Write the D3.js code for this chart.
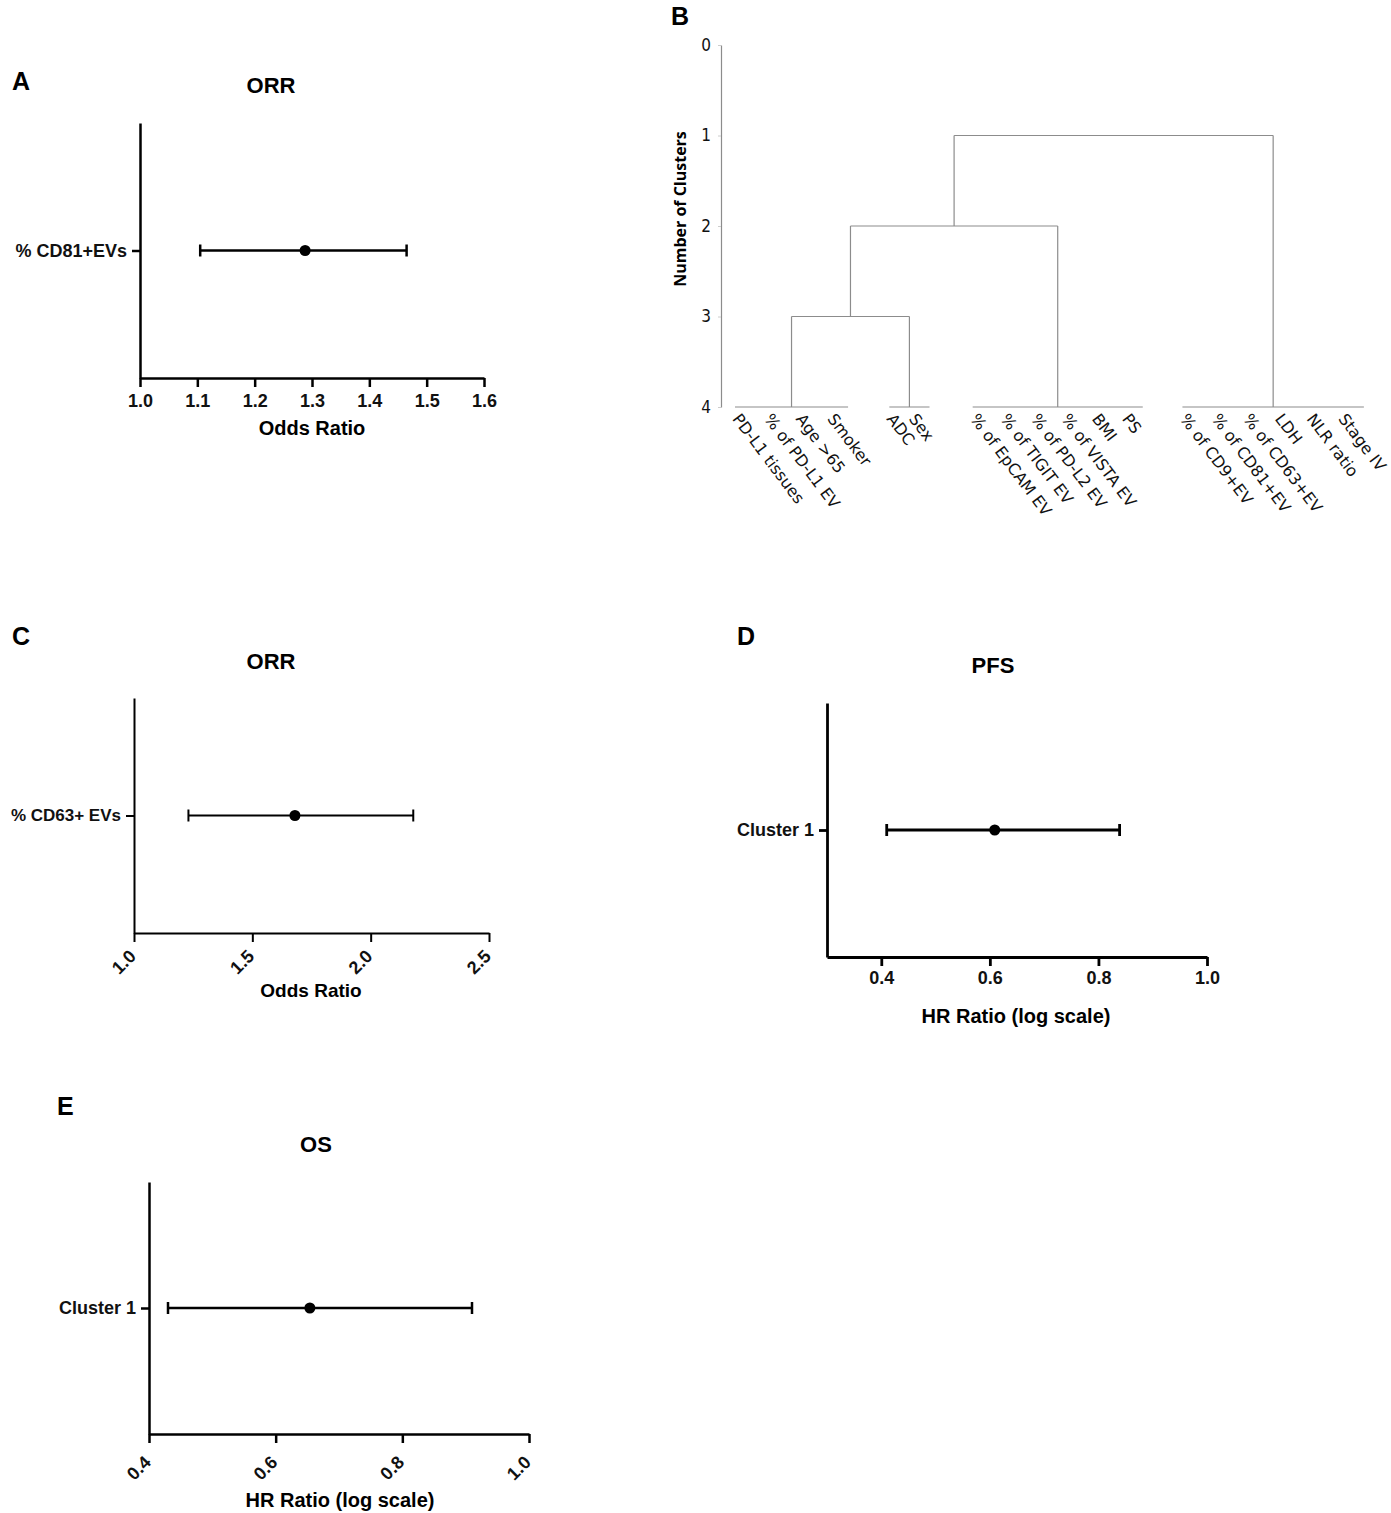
<!DOCTYPE html>
<html>
<head>
<meta charset="utf-8">
<script src="https://cdn.jsdelivr.net/npm/d3@7"></script>
<style>
  body { margin: 0; background: #fff; }
  svg { display: block; font-family: "Liberation Sans", Arial, sans-serif; }
</style>
</head>
<body>
<svg id="fig" width="1391" height="1513"></svg>
<script>
// forest plots (panels A, C, D, E)
const forestPanels = ["A", "C", "D", "E"];
const forestTitles = ["ORR", "ORR", "PFS", "OS"];
const forestCategories = ["% CD81+EVs", "% CD63+ EVs", "Cluster 1", "Cluster 1"];
const forestEstimates = [1.288, 1.68, 0.609, 0.654];
const forestLower = [1.105, 1.23, 0.41, 0.43];
const forestUpper = [1.465, 2.18, 0.839, 0.91];
const forestDomains = [[1.0, 1.6], [1.0, 2.5], [0.3, 1.0], [0.4, 1.0]];
const forestTicks = [
  [1.0, 1.1, 1.2, 1.3, 1.4, 1.5, 1.6],
  [1.0, 1.5, 2.0, 2.5],
  [0.4, 0.6, 0.8, 1.0],
  [0.4, 0.6, 0.8, 1.0]
];
const forestAxisTitles = ["Odds Ratio", "Odds Ratio", "HR Ratio (log scale)", "HR Ratio (log scale)"];

// dendrogram (panel B)
const clusterLeaves = [
  ["PD-L1 tissues", "% of PD-L1 EV", "Age >65", "Smoker"],
  ["ADC", "Sex"],
  ["% of EpCAM EV", "% of TIGIT EV", "% of PD-L2 EV", "% of VISTA EV", "BMI", "PS"],
  ["% of CD9+EV", "% of CD81+EV", "% of CD63+EV", "LDH", "NLR ratio", "Stage IV"]
];
const leafLevel = 4;
const mergeLevels = [3, 2, 1];
const mergeLeft = ["g0", "m0", "m1"];
const mergeRight = ["g1", "g2", "g3"];
const clusterTicks = [0, 1, 2, 3, 4];

const svg = d3.select("#fig");
svg.append("rect").attr("width", 1391).attr("height", 1513).attr("fill", "#fff");

// layout of each forest panel
const layout = {
  A: { left: 140, right: 484, top: 123, bottom: 378, letter: [12, 90], title: [271, 93],
       axisTitle: [312, 435], rotate: false, tickPad: 7, stroke: 2.5, catFont: 18, axisFont: 20 },
  C: { left: 134, right: 489, top: 698, bottom: 933, letter: [12, 645], title: [271, 669],
       axisTitle: [311, 997], rotate: true, tickOff: 20, stroke: 2, catFont: 17, axisFont: 19 },
  D: { left: 827, right: 1207, top: 703, bottom: 957, letter: [737, 645], title: [993, 673],
       axisTitle: [1016, 1023], rotate: false, tickPad: 5, stroke: 2.8, catFont: 18, axisFont: 20 },
  E: { left: 149, right: 529, top: 1182, bottom: 1434, letter: [57, 1115], title: [316, 1152],
       axisTitle: [340, 1507], rotate: true, tickOff: 25, stroke: 2.5, catFont: 18, axisFont: 20 }
};

const drawForest = (i) => {
  const p = forestPanels[i];
  const L = layout[p];
  const g = svg.append("g").attr("class", "panel-" + p);

  const x = d3.scaleLinear().domain(forestDomains[i]).range([L.left, L.right]);
  const y = d3.scalePoint().domain([forestCategories[i]]).range([L.top, L.bottom]).padding(0.5);

  g.append("text")
    .attr("x", L.letter[0]).attr("y", L.letter[1])
    .attr("font-size", 25).attr("font-weight", "bold")
    .text(p);

  g.append("text")
    .attr("x", L.title[0]).attr("y", L.title[1])
    .attr("text-anchor", "middle")
    .attr("font-size", 22).attr("font-weight", "bold")
    .text(forestTitles[i]);

  var xAxis = d3.axisBottom(x)
    .tickValues(forestTicks[i])
    .tickFormat(d3.format(".1f"))
    .tickSize(9)
    .tickSizeOuter(0)
    .tickPadding(L.tickPad || 6);
  var gx = g.append("g").attr("transform", "translate(0," + L.bottom + ")").call(xAxis);
  gx.select(".domain").attr("stroke", "#000").attr("stroke-width", L.stroke);
  gx.selectAll(".tick line").attr("stroke", "#000").attr("stroke-width", L.stroke);
  gx.selectAll(".tick text")
    .attr("font-size", 18).attr("font-weight", "bold").attr("fill", "#111")
    .attr("font-family", "'Liberation Sans', Arial, sans-serif");
  if (L.rotate) {
    gx.selectAll(".tick text")
      .attr("y", 0).attr("x", 0)
      .attr("dy", "0.35em")
      .attr("text-anchor", "end")
      .attr("transform", "translate(-2," + L.tickOff + ") rotate(-45)");
  }

  var yAxis = d3.axisLeft(y).tickSize(8).tickSizeOuter(0).tickPadding(5);
  var gy = g.append("g").attr("transform", "translate(" + L.left + ",0)").call(yAxis);
  gy.select(".domain").attr("stroke", "#000").attr("stroke-width", L.stroke);
  gy.selectAll(".tick line").attr("stroke", "#000").attr("stroke-width", L.stroke);
  gy.selectAll(".tick text")
    .attr("font-size", L.catFont).attr("font-weight", "bold").attr("fill", "#111")
    .attr("font-family", "'Liberation Sans', Arial, sans-serif");

  const rows = [{ c: forestCategories[i], est: forestEstimates[i], lo: forestLower[i], hi: forestUpper[i] }];
  const bar = g.selectAll(".bar").data(rows).enter().append("g").attr("class", "bar");
  bar.append("line")
    .attr("x1", (d) => x(d.lo)).attr("x2", (d) => x(d.hi))
    .attr("y1", (d) => y(d.c)).attr("y2", (d) => y(d.c))
    .attr("stroke", "#000").attr("stroke-width", L.stroke);
  ["lo", "hi"].forEach((k) => {
    bar.append("line")
      .attr("x1", (d) => x(d[k])).attr("x2", (d) => x(d[k]))
      .attr("y1", (d) => y(d.c) - 6).attr("y2", (d) => y(d.c) + 6)
      .attr("stroke", "#000").attr("stroke-width", L.stroke);
  });
  bar.append("circle")
    .attr("cx", (d) => x(d.est)).attr("cy", (d) => y(d.c))
    .attr("r", 5.5).attr("fill", "#000");

  g.append("text")
    .attr("x", L.axisTitle[0]).attr("y", L.axisTitle[1])
    .attr("text-anchor", "middle")
    .attr("font-size", L.axisFont).attr("font-weight", "bold")
    .text(forestAxisTitles[i]);
};

forestPanels.forEach((p, i) => drawForest(i));

// ---- panel B: dendrogram ----
const drawDendrogram = () => {
  const g = svg.append("g").attr("class", "panel-B");
  const lineColor = "#8c8c8c";
  const leafFont = "'DejaVu Sans', Verdana, sans-serif";

  g.append("text")
    .attr("x", 671).attr("y", 25)
    .attr("font-size", 25).attr("font-weight", "bold")
    .text("B");

  const bx = d3.scaleLinear().domain([0, 19.25]).range([741, 1351]);
  const by = d3.scaleLinear().domain([0, 4]).range([45, 407]);
  // slot offsets of each group along the leaf axis
  const groupStart = [0, 4.87, 7.5, 14.12];
  const groupStep = [1, 0.7, 0.96, 1];
  const groupPadRight = [12, 12, 12, 17];

  // y axis
  var yAxis = d3.axisLeft(by).tickValues(clusterTicks).tickFormat(d3.format("d")).tickSize(3).tickSizeOuter(0).tickPadding(7);
  var gy = g.append("g").attr("transform", "translate(721,0)").call(yAxis);
  gy.select(".domain").attr("stroke", lineColor).attr("stroke-width", 1.2);
  gy.selectAll(".tick line").attr("stroke", "#ccc").attr("stroke-width", 1);
  gy.selectAll(".tick text")
    .attr("font-size", 17).attr("fill", "#111")
    .attr("font-family", "'DejaVu Sans Condensed', 'DejaVu Sans', sans-serif");

  g.append("text")
    .attr("transform", "translate(686,209) rotate(-90)")
    .attr("text-anchor", "middle")
    .attr("font-family", "'Open Sans', sans-serif")
    .attr("font-size", 16).attr("font-weight", "bold")
    .text("Number of Clusters");

  const nodes = {};
  const segments = [];
  const leaves = [];

  clusterLeaves.forEach((names, gi) => {
    const xs = names.map((n, j) => bx(groupStart[gi] + j * groupStep[gi]));
    names.forEach((n, j) => leaves.push({ name: n, x: xs[j] }));
    const x0 = xs[0] - 6;
    const x1 = xs[xs.length - 1] + groupPadRight[gi];
    segments.push({ x1: x0, x2: x1, y1: leafLevel, y2: leafLevel });
    nodes["g" + gi] = { x: (x0 + x1) / 2, level: leafLevel };
  });

  mergeLevels.forEach((lev, mi) => {
    const a = nodes[mergeLeft[mi]];
    const b = nodes[mergeRight[mi]];
    segments.push({ x1: a.x, x2: a.x, y1: a.level, y2: lev });
    segments.push({ x1: b.x, x2: b.x, y1: b.level, y2: lev });
    segments.push({ x1: a.x, x2: b.x, y1: lev, y2: lev });
    nodes["m" + mi] = { x: (a.x + b.x) / 2, level: lev };
  });

  g.selectAll(".seg").data(segments).enter().append("line")
    .attr("class", "seg")
    .attr("x1", (d) => d.x1).attr("x2", (d) => d.x2)
    .attr("y1", (d) => by(d.y1)).attr("y2", (d) => by(d.y2))
    .attr("stroke", lineColor).attr("stroke-width", 1.2);

  g.selectAll(".leaf").data(leaves).enter().append("text")
    .attr("class", "leaf")
    .attr("transform", (d) => "translate(" + d.x + "," + (by(leafLevel) + 5) + ") rotate(53)")
    .attr("dy", "0.72em")
    .attr("font-family", leafFont)
    .attr("font-size", 16).attr("fill", "#111")
    .text((d) => d.name);
};

drawDendrogram();
</script>
</body>
</html>
